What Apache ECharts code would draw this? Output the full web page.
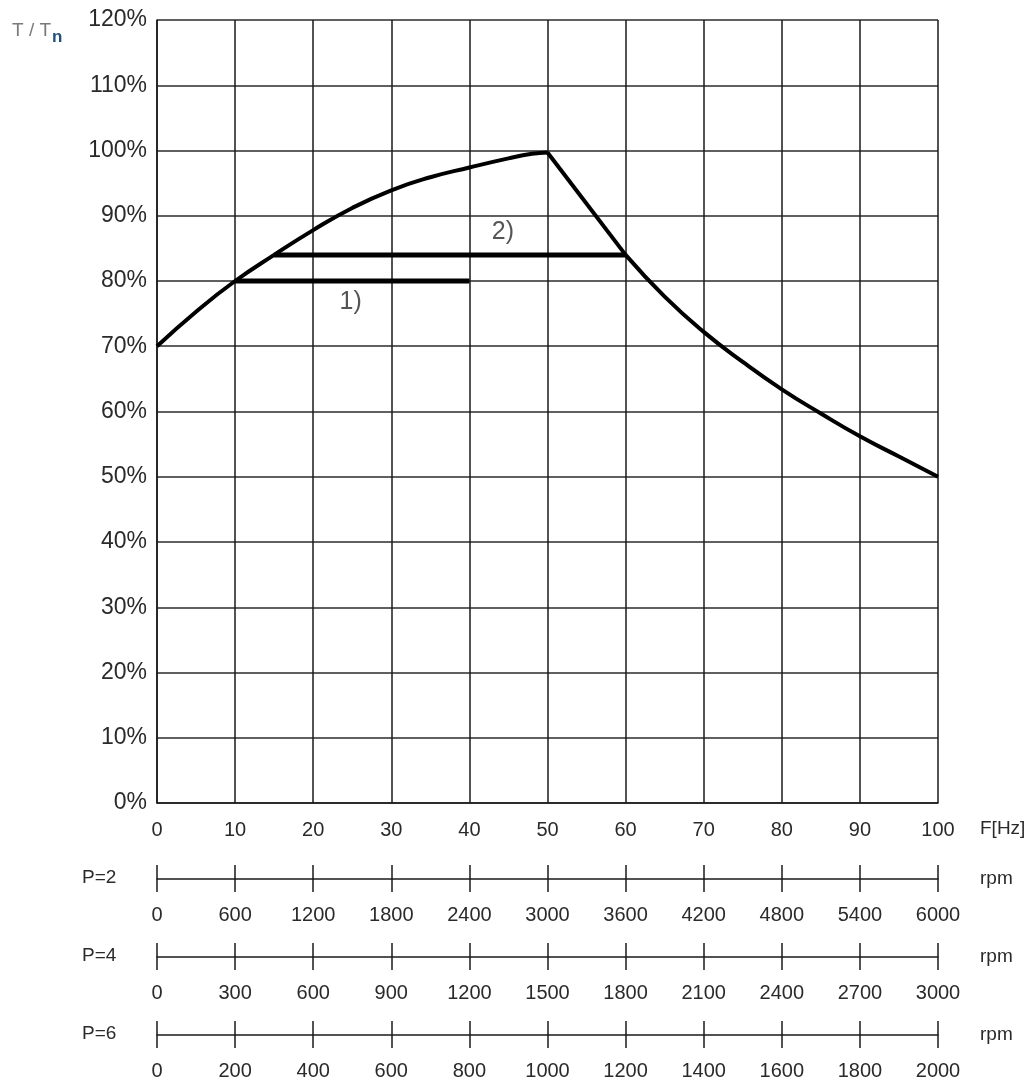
<!DOCTYPE html>
<html>
<head>
<meta charset="utf-8">
<script src="https://cdn.jsdelivr.net/npm/echarts@6/dist/echarts.min.js"></script>
<style>
  html, body { margin: 0; padding: 0; background: #fff; }
  #chart { width: 1034px; height: 1081px; }
</style>
</head>
<body>
<div id="chart"></div>
<script>
// torque curve T/Tn (%) against frequency (Hz)
const riseFreq = [0, 5, 10, 15, 20, 25, 30, 35, 40, 45, 48, 50];
const riseTorque = [70, 75.3, 80, 84, 87.8, 91.2, 93.9, 95.9, 97.4, 98.8, 99.5, 99.7];
const dropFreq = [50, 60];
const dropTorque = [99.7, 84];
const fallFreq = [60, 65, 70, 75, 80, 85, 90, 95, 100];
const fallTorque = [84, 77.6, 72.2, 67.6, 63.4, 59.7, 56.2, 53.1, 50];

// horizontal limits 1) and 2)
const limit1 = [[10, 80], [40, 80]];
const limit2 = [[15, 84], [60, 84]];
const limitLabels = [
  { text: '1)', at: [24.8, 76.8] },
  { text: '2)', at: [44.3, 87.5] }
];

// speed scales under the frequency axis
const poleCounts = ['P=2', 'P=4', 'P=6'];
const rpmMax = [6000, 3000, 2000];
const rpmStep = [600, 300, 200];

const FONT = '"Liberation Sans", Arial, sans-serif';
const TXT = '#2a2a2a';
const LINE = '#1a1a1a';

const chart = echarts.init(document.getElementById('chart'), null, { renderer: 'canvas' });

function pairs(xs, ys) {
  return xs.map((x, i) => [x, ys[i]]);
}

const grids = [{ left: 157, right: 96, top: 20, height: 783, outerBoundsMode: 'none' }];
const xAxes = [{
  type: 'value', gridIndex: 0, min: 0, max: 100, interval: 10,
  name: 'F[Hz]', nameLocation: 'end', nameGap: 42,
  nameTextStyle: { fontFamily: FONT, fontSize: 19, color: TXT, verticalAlign: 'top', padding: [16, 0, 0, 0] },
  axisLine: { show: true, lineStyle: { color: LINE, width: 1.5 } },
  axisTick: { show: false },
  axisLabel: { margin: 17, fontFamily: FONT, fontSize: 20, color: TXT },
  splitLine: { show: true, lineStyle: { color: LINE, width: 1.5 } }
}];
const yAxes = [{
  type: 'value', gridIndex: 0, min: 0, max: 120, interval: 10,
  axisLine: { show: true, lineStyle: { color: LINE, width: 1.5 } },
  axisTick: { show: false },
  axisLabel: { margin: 10, fontFamily: FONT, fontSize: 23, color: TXT, formatter: '{value}%' },
  splitLine: { show: true, lineStyle: { color: '#2b2b2b', width: 1.6 } }
}];

const graphics = [{
  type: 'text', left: 12, top: 21,
  style: {
    text: '{a|T / T}{b|n}',
    rich: {
      a: { fontFamily: FONT, fontSize: 19, fill: '#7a7a7a' },
      b: { fontFamily: FONT, fontSize: 17, fontWeight: 'bold', fill: '#1f4f7a', padding: [14, 0, 0, 1] }
    }
  }
}];

poleCounts.forEach((p, i) => {
  const top = 865 + i * 78;
  grids.push({ left: 157, right: 96, top: top, height: 27, outerBoundsMode: 'none' });
  xAxes.push({
    type: 'value', gridIndex: i + 1, min: 0, max: rpmMax[i], interval: rpmStep[i],
    name: 'rpm', nameLocation: 'end', nameGap: 42,
    nameTextStyle: { fontFamily: FONT, fontSize: 19, color: TXT },
    axisLine: { show: true, onZero: true, lineStyle: { color: LINE, width: 1.5 } },
    axisTick: { show: false },
    axisLabel: { margin: 13, fontFamily: FONT, fontSize: 20, color: TXT, formatter: v => String(v) },
    splitLine: { show: true, lineStyle: { color: LINE, width: 1.5 } }
  });
  yAxes.push({
    type: 'value', gridIndex: i + 1, min: -1, max: 1, show: false,
    splitLine: { show: false }
  });
  graphics.push({
    type: 'text', left: 82, top: top + 3,
    style: { text: p, fontFamily: FONT, fontSize: 19, fill: TXT }
  });
});

const curveStyle = { color: '#000', width: 4 };
const series = [
  {
    type: 'line', xAxisIndex: 0, yAxisIndex: 0, data: pairs(riseFreq, riseTorque),
    smooth: 0.5, showSymbol: false, lineStyle: curveStyle, silent: true
  },
  {
    type: 'line', xAxisIndex: 0, yAxisIndex: 0, data: pairs(dropFreq, dropTorque),
    showSymbol: false, lineStyle: curveStyle, silent: true
  },
  {
    type: 'line', xAxisIndex: 0, yAxisIndex: 0, data: pairs(fallFreq, fallTorque),
    smooth: 0.5, showSymbol: false, lineStyle: curveStyle, silent: true
  },
  {
    type: 'line', xAxisIndex: 0, yAxisIndex: 0, data: limit1,
    showSymbol: false, lineStyle: { color: '#000', width: 5 }, silent: true
  },
  {
    type: 'line', xAxisIndex: 0, yAxisIndex: 0, data: limit2,
    showSymbol: false, lineStyle: { color: '#000', width: 5 }, silent: true
  },
  {
    type: 'scatter', xAxisIndex: 0, yAxisIndex: 0, symbolSize: 0, silent: true,
    data: limitLabels.map(l => ({ value: l.at, name: l.text })),
    label: {
      show: true, position: 'inside', formatter: '{b}',
      fontFamily: FONT, fontSize: 25, color: TXT
    }
  }
];

chart.setOption({
  animation: false,
  backgroundColor: '#fff',
  grid: grids,
  xAxis: xAxes,
  yAxis: yAxes,
  graphic: graphics,
  series: series
});
</script>
</body>
</html>
